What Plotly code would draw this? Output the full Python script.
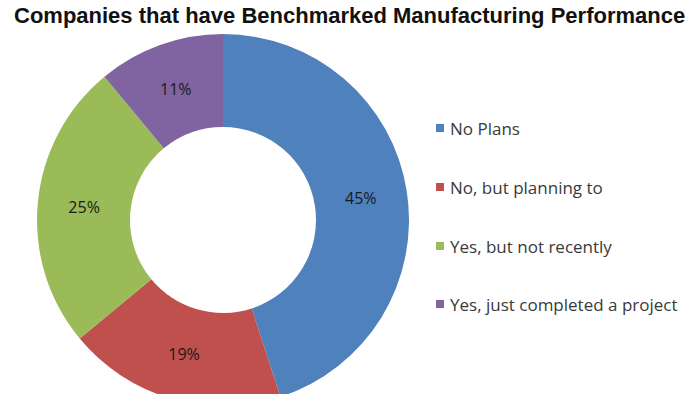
import plotly.graph_objects as go

labels = ["No Plans", "No, but planning to", "Yes, but not recently", "Yes, just completed a project"]
values = [45, 19, 25, 11]
colors = ["#4F81BD", "#C0504D", "#9BBB59", "#8064A2"]
title_text = "Companies that have Benchmarked Manufacturing Performance"

W, H = 700, 420
cx, cy, R = 223, 220, 186  # px, top-origin

fig = go.Figure(go.Pie(
    labels=labels, values=values, hole=0.5, sort=False, direction="clockwise", rotation=0,
    marker=dict(colors=colors, line=dict(width=0)),
    texttemplate="%{value}%", textposition="inside",
    insidetextorientation="horizontal",
    textfont=dict(family="Open Sans, sans-serif", size=16, color="#1a1a1a"),
    domain=dict(x=[(cx - R) / W, (cx + R) / W], y=[1 - (cy + R) / H, 1 - (cy - R) / H]),
    showlegend=False, hoverinfo="label+percent",
))

leg_y = [128, 187, 246, 304]
for lab, col, yy in zip(labels, colors, leg_y):
    fig.add_shape(type="rect", xref="paper", yref="paper",
                  x0=436 / W, x1=444 / W, y0=1 - (yy + 4) / H, y1=1 - (yy - 4) / H,
                  fillcolor=col, line=dict(width=0))
    fig.add_annotation(x=448 / W, y=1 - yy / H, xref="paper", yref="paper", text=lab,
                       showarrow=False, xanchor="left", yanchor="middle",
                       font=dict(family="Open Sans, sans-serif", size=17, color="#3a3a3a"))

fig.add_annotation(x=349 / W, y=1 - 1 / H, xref="paper", yref="paper", text="<b>" + title_text + "</b>",
                   showarrow=False, xanchor="center", yanchor="top",
                   font=dict(family="Liberation Sans, Arial, sans-serif", size=22, color="#111111"))

fig.update_layout(width=W, height=H, margin=dict(l=0, r=0, t=0, b=0),
                  paper_bgcolor="white", plot_bgcolor="white")

fig.write_html("out.html", config={"displayModeBar": False},
               post_script="document.body.style.margin='0';document.documentElement.style.overflow='hidden';document.body.style.overflow='hidden';")
